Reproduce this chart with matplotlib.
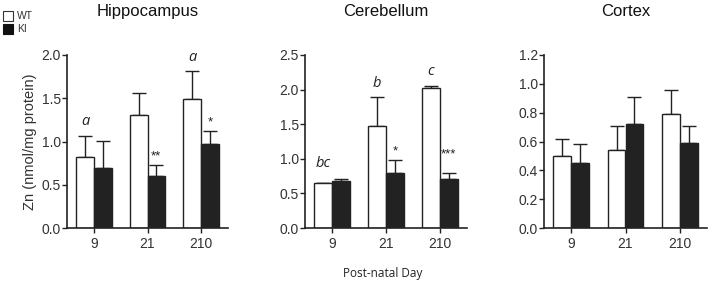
import matplotlib
matplotlib.use("Agg")
import matplotlib.pyplot as plt
import numpy as np
from matplotlib.patches import Rectangle

plt.rcParams['font.family'] = ['Liberation Sans', 'DejaVu Sans']

days = ["9", "21", "210"]
panels = ["Hippocampus", "Cerebellum", "Cortex"]

hip_wt = [0.82, 1.31, 1.49]
hip_wt_err = [0.24, 0.25, 0.33]
hip_ki = [0.69, 0.60, 0.97]
hip_ki_err = [0.32, 0.13, 0.15]

cer_wt = [0.65, 1.47, 2.03]
cer_wt_err = [0.0, 0.43, 0.02]
cer_ki = [0.68, 0.80, 0.71]
cer_ki_err = [0.03, 0.18, 0.08]

cor_wt = [0.50, 0.54, 0.79]
cor_wt_err = [0.12, 0.17, 0.17]
cor_ki = [0.45, 0.72, 0.59]
cor_ki_err = [0.13, 0.19, 0.12]

ymaxs = [2.0, 2.5, 1.2]
ysteps = [0.5, 0.5, 0.2]

# annotations: (group, series, y, text, italic)
hip_notes = [(0, 0, 1.15, "a", True), (2, 0, 1.88, "a", True),
             (1, 1, 0.76, "**", False), (2, 1, 1.15, "*", False)]
cer_notes = [(0, 0, 0.82, "bc", True), (1, 0, 1.98, "b", True), (2, 0, 2.16, "c", True),
             (1, 1, 1.02, "*", False), (2, 1, 0.98, "***", False)]
cor_notes = []

data = [
    (hip_wt, hip_wt_err, hip_ki, hip_ki_err, hip_notes),
    (cer_wt, cer_wt_err, cer_ki, cer_ki_err, cer_notes),
    (cor_wt, cor_wt_err, cor_ki, cor_ki_err, cor_notes),
]

fig = plt.figure(figsize=(7.08, 2.83), dpi=100)
lefts = [67, 305, 544]
widths = [161, 162, 163]
bottom_px, top_px = 228, 55
W, H = 708, 283
axc = '#222222'
w = 0.33
x = np.arange(3)

for i, (wt, wte, ki, kie, notes) in enumerate(data):
    ax = fig.add_axes([lefts[i] / W, (H - bottom_px) / H, widths[i] / W, (bottom_px - top_px) / H])
    ax.bar(x - w / 2, wt, w, color='white', edgecolor=axc, linewidth=1.0, zorder=2)
    ax.bar(x + w / 2, ki, w, color='#222222', edgecolor=axc, linewidth=1.0, zorder=2)
    ax.errorbar(x - w / 2, wt, yerr=[np.zeros(3), wte], fmt='none', ecolor=axc,
                elinewidth=1.0, capsize=5, capthick=1.0, zorder=1)
    ax.errorbar(x + w / 2, ki, yerr=[np.zeros(3), kie], fmt='none', ecolor=axc,
                elinewidth=1.0, capsize=5, capthick=1.0, zorder=1)
    ax.set_xlim(-0.5, 2.5)
    ax.set_ylim(0, ymaxs[i])
    ax.set_yticks(np.arange(0, ymaxs[i] + 1e-9, ysteps[i]))
    ax.set_yticklabels([f"{v:.1f}" for v in np.arange(0, ymaxs[i] + 1e-9, ysteps[i])])
    ax.set_xticks(x)
    ax.set_xticklabels(days)
    for s in ['top', 'right']:
        ax.spines[s].set_visible(False)
    for s in ['left', 'bottom']:
        ax.spines[s].set_color(axc)
        ax.spines[s].set_linewidth(1.2)
    ax.tick_params(axis='both', colors=axc, labelcolor='#333333', labelsize=10,
                   length=3.5, width=1.0, direction='out')
    ax.tick_params(axis='x', pad=3)
    ax.tick_params(axis='y', pad=1)
    ax.set_title(panels[i], fontsize=12, pad=28, color='#111111')
    for g, s, yv, txt, it in notes:
        xpos = g - w / 2 if s == 0 else g + w / 2
        ax.text(xpos, yv, txt, ha='center', va='bottom', fontsize=10.5 if it else 9.5,
                style='italic' if it else 'normal',
                family=['Open Sans', 'DejaVu Sans'] if it else ['Liberation Sans'],
                color='#222222')
    if i == 0:
        ax.set_ylabel("Zn (nmol/mg protein)", fontsize=10.5, color='#333333', labelpad=3)

# legend
fig.patches.append(Rectangle((3 / W, (H - 21) / H), 10 / W, 10 / H, transform=fig.transFigure,
                             facecolor='white', edgecolor='#333333', linewidth=0.8))
fig.patches.append(Rectangle((3 / W, (H - 34) / H), 10 / W, 10 / H, transform=fig.transFigure,
                             facecolor='#111111', edgecolor='#111111', linewidth=0.8))
fig.text(17 / W, (H - 16) / H, "WT", fontsize=7.5, va='center', ha='left', color='#333333')
fig.text(17 / W, (H - 29) / H, "KI", fontsize=7.5, va='center', ha='left', color='#333333')

fig.text(383 / W, (H - 274) / H, "Post-natal Day", fontsize=8.5, ha='center', va='center',
         family=['Open Sans', 'DejaVu Sans'], color='#222222')

fig.savefig("out.png", dpi=100)
